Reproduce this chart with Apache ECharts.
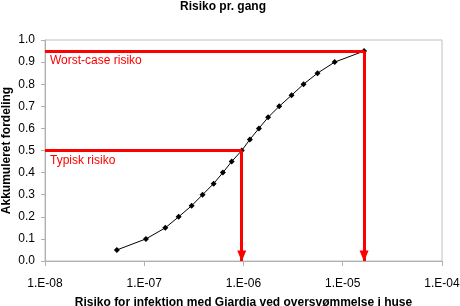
<!DOCTYPE html>
<html><head><meta charset="utf-8">
<script src="https://cdn.jsdelivr.net/npm/echarts@6/dist/echarts.min.js"></script>
<style>html,body{margin:0;padding:0;background:#fff}#c{width:460px;height:306px}</style>
</head><body><div id="c"></div>
<script>
const risk = [5.3e-8, 1.04e-7, 1.63e-7, 2.22e-7, 3.0e-7, 3.87e-7, 5.0e-7, 6.2e-7, 7.6e-7, 9.6e-7,
  1.16e-6, 1.43e-6, 1.77e-6, 2.29e-6, 3.05e-6, 4.03e-6, 5.57e-6, 8.3e-6, 1.64e-5];
const cumulative = [0.05, 0.10, 0.15, 0.20, 0.25, 0.30, 0.35, 0.40, 0.45, 0.50,
  0.55, 0.60, 0.65, 0.70, 0.75, 0.80, 0.85, 0.90, 0.95];
const typicalRisk = [9.6e-7, 0.5];
const worstRisk = [1.64e-5, 0.95];
const xMin = 1e-8, xMax = 1e-4;
const labelTypical = 'Typisk risiko';
const labelWorst = 'Worst-case risiko';

const font = 'Liberation Sans, Arial, sans-serif';
const red = '#ff0000';
const chart = echarts.init(document.getElementById('c'));
chart.setOption({
  animation: false,
  title: {text: 'Risiko pr. gang', left: 223, textAlign: 'center', top: 1, padding: 0,
    textStyle: {fontFamily: font, fontSize: 12, fontWeight: 'bold', color: '#000'}},
  grid: {left: 45, right: 18, top: 40, bottom: 45, show: true, borderColor: '#c0c0c0', borderWidth: 1,
    containLabel: false, outerBoundsMode: 'none'},
  xAxis: {type: 'log', logBase: 10, min: xMin, max: xMax,
    name: 'Risiko for infektion med Giardia ved oversvømmelse i huse', nameLocation: 'middle', nameGap: 36,
    nameMoveOverlap: false,
    nameTextStyle: {fontFamily: font, fontSize: 12, fontWeight: 'bold', color: '#000'},
    axisLine: {lineStyle: {color: '#b0b0b0'}},
    axisTick: {show: true, inside: false, length: 5, lineStyle: {color: '#b0b0b0'}},
    minorTick: {show: false},
    splitLine: {show: false},
    axisLabel: {fontFamily: font, fontSize: 12, color: '#000', margin: 17,
      formatter: v => { const e = Math.round(Math.log10(v)); const a = Math.abs(e); return '1.E' + (e < 0 ? '-' : '+') + (a < 10 ? '0' + a : a); }}
  },
  yAxis: {type: 'value', min: 0, max: 1, interval: 0.1,
    name: 'Akkumuleret fordeling', nameLocation: 'middle', nameGap: 32,
    nameMoveOverlap: false,
    nameTextStyle: {fontFamily: font, fontSize: 12, fontWeight: 'bold', color: '#000'},
    axisLine: {show: true, lineStyle: {color: '#b0b0b0'}},
    axisTick: {show: true, inside: false, length: 4, lineStyle: {color: '#b0b0b0'}},
    splitLine: {show: false},
    axisLabel: {fontFamily: font, fontSize: 12, color: '#000', margin: 10, formatter: v => v.toFixed(1)}
  },
  series: [
    {type: 'line', data: risk.map((x, i) => [x, cumulative[i]]),
      symbol: 'diamond', symbolSize: 6, showSymbol: true,
      itemStyle: {color: '#000'}, lineStyle: {color: '#000', width: 1}, z: 3},
    {type: 'line', data: [], z: 2,
      markLine: {silent: true, animation: false, symbol: 'none',
        lineStyle: {color: red, width: 3, type: 'solid'},
        label: {show: false},
        data: [
          [{coord: [xMin, worstRisk[1]], symbol: 'none', label: {show: true, position: 'insideStartBottom',
            formatter: labelWorst, color: red, fontFamily: font, fontSize: 12, distance: [5, 4]}},
           {coord: [worstRisk[0], worstRisk[1]], symbol: 'none'}],
          [{coord: [worstRisk[0], worstRisk[1]], symbol: 'none'}, {coord: [worstRisk[0], 0], symbol: 'triangle', symbolSize: [9, 11], symbolOffset: [0, 5]}],
          [{coord: [xMin, typicalRisk[1]], symbol: 'none', label: {show: true, position: 'insideStartBottom',
            formatter: labelTypical, color: red, fontFamily: font, fontSize: 12, distance: [5, 4]}},
           {coord: [typicalRisk[0], typicalRisk[1]], symbol: 'none'}],
          [{coord: [typicalRisk[0], typicalRisk[1]], symbol: 'none'}, {coord: [typicalRisk[0], 0], symbol: 'triangle', symbolSize: [9, 11], symbolOffset: [0, 5]}]
        ]}
    }
  ]
});
</script></body></html>
